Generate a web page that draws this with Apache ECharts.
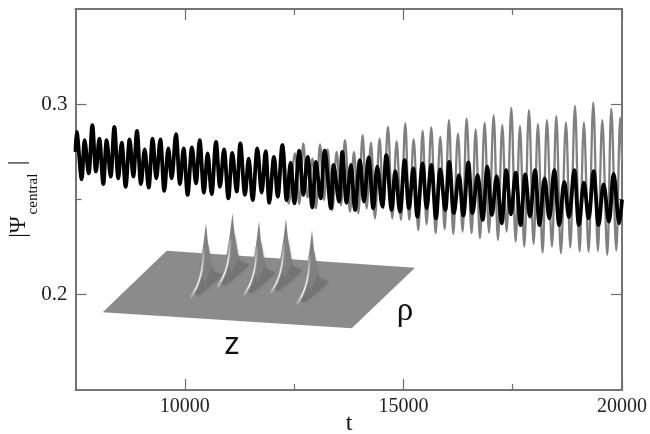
<!DOCTYPE html>
<html><head><meta charset="utf-8">
<style>html,body{margin:0;padding:0;background:#fff}#c{width:650px;height:434px}</style>
<script src="https://cdn.jsdelivr.net/npm/echarts@6/dist/echarts.min.js"></script>
</head><body><div id="c"></div>
<script>
// Extrema: time and |Psi_central|
const sharedT=[7500,7526,7641,7709,7801,7885,7969,8045,8136,8213,8304,8388,8479,8556,8647,8738,8822,8906,8998,9082,9173,9264,9348,9440,9531,9623,9699,9798,9890,9973,10065,10164,10255,10339,10438,10522,10614,10714,10805,10897,10996,11087,11186,11270,11377,11461,11552,11659,11758,11849];
const sharedPsi=[.2750,.2855,.2606,.2812,.2637,.2890,.2646,.2820,.2581,.2812,.2620,.2881,.2611,.2798,.2567,.2815,.2620,.2860,.2581,.2763,.2562,.2820,.2611,.2815,.2545,.2768,.2611,.2843,.2581,.2768,.2524,.2773,.2585,.2812,.2536,.2742,.2529,.2803,.2567,.2763,.2506,.2745,.2541,.2794,.2524,.2715,.2497,.2768,.2536,.2754];
const blackLateT=[11933,12040,12124,12231,12330,12421,12505,12619,12711,12810,12917,13000,13107,13199,13343,13404,13526,13603,13701,13801,13892,14006,14098,14205,14311,14403,14517,14609,14731,14814,14921,15028,15127,15226,15318,15440,15531,15638,15745,15844,15958,16049,16156,16270,16370,16484,16583,16697,16812,16919,17025,17132,17246,17353,17460,17567,17681,17788,17894,18009,18115,18230,18337,18451,18565,18680,18786,18908,19015,19129,19236,19350,19465,19579,19701,19808,19937,20000];
const blackLatePsi=[.2483,.2724,.2515,.2785,.2497,.2693,.2480,.2756,.2524,.2724,.2459,.2698,.2506,.2756,.2454,.2681,.2489,.2750,.2483,.2681,.2445,.2707,.2489,.2721,.2454,.2672,.2463,.2733,.2445,.2649,.2436,.2707,.2454,.2663,.2410,.2689,.2454,.2681,.2401,.2658,.2445,.2698,.2428,.2628,.2415,.2695,.2428,.2628,.2393,.2672,.2419,.2623,.2375,.2654,.2422,.2641,.2366,.2632,.2410,.2654,.2366,.2611,.2401,.2654,.2366,.2593,.2407,.2654,.2366,.2588,.2401,.2649,.2366,.2579,.2384,.2634,.2375,.2500];
const grayLateT=[11949,12048,12139,12246,12375,12520,12619,12711,12810,12917,13000,13092,13183,13267,13374,13473,13572,13663,13778,13869,13968,14067,14159,14258,14349,14456,14540,14647,14746,14845,14944,15043,15135,15234,15340,15440,15531,15638,15737,15844,15943,16042,16141,16248,16354,16446,16560,16652,16751,16858,16957,17064,17163,17262,17361,17468,17567,17666,17765,17872,17978,18077,18184,18283,18398,18497,18603,18718,18817,18924,19030,19129,19236,19343,19449,19549,19663,19755,19869,19960,20000];
const grayLatePsi=[.2506,.2724,.2511,.2790,.2478,.2742,.2477,.2794,.2511,.2716,.2454,.2789,.2498,.2763,.2445,.2750,.2471,.2811,.2436,.2750,.2428,.2838,.2454,.2798,.2401,.2820,.2454,.2881,.2401,.2806,.2393,.2899,.2393,.2817,.2340,.2860,.2370,.2878,.2323,.2829,.2344,.2916,.2319,.2846,.2332,.2925,.2323,.2867,.2297,.2902,.2326,.2942,.2288,.2890,.2332,.2981,.2279,.2885,.2253,.2969,.2267,.2895,.2222,.2916,.2253,.2937,.2218,.2904,.2248,.2991,.2227,.2904,.2227,.3009,.2231,.2916,.2210,.2977,.2232,.2930,.2700];
const xMajor=[10000,15000,20000], xMinor=[12500,17500], yMajor=[0.2,0.3], yMinor=[0.25];
const xTitle='t', rhoLabel='ρ', zLabel='z';

const pairs=(t,v)=>t.map((x,i)=>[x,v[i]]);
const grayData=pairs(sharedT.concat(grayLateT),sharedPsi.concat(grayLatePsi));
const blackData=pairs(sharedT.concat(blackLateT),sharedPsi.concat(blackLatePsi));

const AX='#6e6e6e', TXT='#222', SERIF='"Liberation Serif",serif';
const lineS={lineStyle:{color:AX,width:1.6}};
function xAxis(pos,vals,len,labels){return {type:'value',min:7500,max:20000,position:pos,
  axisLine:{show:true,onZero:false,...lineS},
  axisTick:{show:true,inside:true,length:len,customValues:vals,lineStyle:{color:AX,width:1.2}},
  axisLabel:labels?{show:true,customValues:vals,color:TXT,fontFamily:SERIF,fontSize:20,margin:7,formatter:v=>String(v)}:{show:false},
  splitLine:{show:false}};}
function yAxis(pos,vals,len,labels){return {type:'value',min:0.15,max:0.35,position:pos,
  axisLine:{show:true,onZero:false,...lineS},
  axisTick:{show:true,inside:true,length:len,customValues:vals,lineStyle:{color:AX,width:1.2}},
  axisLabel:labels?{show:true,customValues:vals,color:TXT,fontFamily:SERIF,fontSize:21,margin:8,formatter:v=>v.toFixed(1)}:{show:false},
  splitLine:{show:false}};}

// Inset illustration (schematic surface, not data)
const plane='#8b8b8b', body='#808080', shade='#747474';
const tips=[[206,223],[232.5,213],[259,221],[286,218.5],[312,230]];
const gfx=[{type:'polygon',z:10,shape:{points:[[166.7,250.7],[415,267.7],[351.7,328.3],[102.7,312.3]]},style:{fill:plane}}];
tips.forEach(([x,y])=>{
  gfx.push({type:'polygon',z:11,shape:{smooth:0.15,points:[[x-3,y+45],[x+1,y+20],[x+7,y+48],[x+16,y+52],[x-7,y+72],[x-12,y+70]]},style:{fill:shade,shadowBlur:3,shadowColor:shade}});
  gfx.push({type:'polygon',z:12,shape:{points:[[x,y],[x+2,y+20],[x+6,y+44],[x-1,y+60],[x-7,y+48],[x-3,y+24]]},style:{fill:body}});
  gfx.push({type:'bezierCurve',z:13,shape:{x1:x-2.5,y1:y+26,cpx1:x-3,cpy1:y+50,cpx2:x-7,cpy2:y+62,x2:x-15,y2:y+74},style:{
    stroke:new echarts.graphic.LinearGradient(0,0,0,1,[{offset:0,color:'#8b8b8b'},{offset:.45,color:'#e6e6e6'},{offset:.8,color:'#eeeeee'},{offset:1,color:'#8b8b8b'}]),
    lineWidth:1.5,fill:null,shadowBlur:2,shadowColor:'#bbb'}});
});
gfx.push(
 {type:'text',z:15,x:232,y:345,style:{text:zLabel,font:'31px "Liberation Sans",sans-serif',fill:'#111',align:'center',verticalAlign:'middle'}},
 {type:'text',z:15,x:405,y:311,style:{text:rhoLabel,font:'33px "Liberation Serif",serif',fill:'#111',align:'center',verticalAlign:'middle'}},
 {type:'text',z:15,x:349,y:424,style:{text:xTitle,font:'24px "Liberation Serif",serif',fill:'#111',align:'center',verticalAlign:'middle'}},
 {type:'text',z:15,x:19,y:227,rotation:Math.PI/2,style:{text:'|Ψ',font:'23px "Liberation Serif",serif',fill:'#111',align:'center',verticalAlign:'middle'}},
 {type:'text',z:15,x:33,y:194,rotation:Math.PI/2,style:{text:'central',font:'15px "Liberation Serif",serif',fill:'#111',align:'center',verticalAlign:'middle'}},
 {type:'text',z:15,x:18,y:163,rotation:Math.PI/2,style:{text:'|',font:'23px "Liberation Serif",serif',fill:'#111',align:'center',verticalAlign:'middle'}}
);

const chart=echarts.init(document.getElementById('c'),null,{renderer:'canvas'});
chart.setOption({animation:false,backgroundColor:'#fff',
 grid:{left:75.5,right:27.5,top:9,bottom:44,containLabel:false},
 xAxis:[xAxis('bottom',xMajor,11,true),xAxis('bottom',xMinor,6,false),xAxis('top',xMajor,11,false),xAxis('top',xMinor,6,false)],
 yAxis:[yAxis('left',yMajor,11,true),yAxis('left',yMinor,6,false),yAxis('right',yMajor,11,false),yAxis('right',yMinor,6,false)],
 series:[
  {type:'line',data:grayData,smooth:0.35,showSymbol:false,symbol:'none',clip:true,z:3,lineStyle:{color:'#808080',width:2.3}},
  {type:'line',data:blackData,smooth:0.35,showSymbol:false,symbol:'none',clip:true,z:4,lineStyle:{color:'#000',width:3.8}}
 ],
 graphic:gfx});
</script></body></html>
